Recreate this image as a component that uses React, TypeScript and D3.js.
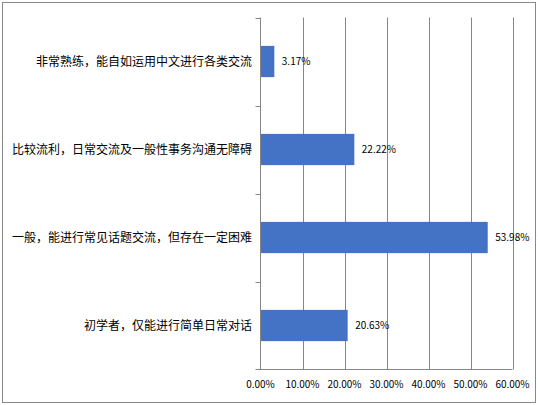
import { useEffect, useRef } from 'react';
import * as d3 from 'd3';

const categories = [
  '非常熟练，能自如运用中文进行各类交流',
  '比较流利，日常交流及一般性事务沟通无障碍',
  '一般，能进行常见话题交流，但存在一定困难',
  '初学者，仅能进行简单日常对话',
];
const values = [3.17, 22.22, 53.98, 20.63];
const xTicks = [0, 10, 20, 30, 40, 50, 60];

export default function App() {
  const ref = useRef<SVGSVGElement>(null);

  useEffect(() => {
    if (!ref.current) return;
    const width = 538;
    const height = 405;
    const left = 260.5;
    const right = 512.5;
    const top = 17.5;
    const bottom = 369.5;
    const lineColor = '#868686';
    const font = '"Noto Sans CJK SC", "Noto Sans", sans-serif';

    const svg = d3.select(ref.current);
    svg.selectAll('*').remove();
    svg.attr('width', width).attr('height', height);

    // Outer border
    svg.append('rect')
      .attr('x', 2.5)
      .attr('y', 2.5)
      .attr('width', 533)
      .attr('height', 400)
      .attr('fill', '#fff')
      .attr('stroke', '#888');

    const x = d3.scaleLinear().domain([0, 60]).range([left, right]);
    const y = d3.scaleBand<string>()
      .domain(categories)
      .range([top, bottom])
      .paddingInner(0.645)
      .paddingOuter(0.3225);

    // Gridlines
    svg.append('g')
      .selectAll('line')
      .data(xTicks.slice(1))
      .join('line')
      .attr('x1', d => Math.round(x(d)) + 0.5)
      .attr('x2', d => Math.round(x(d)) + 0.5)
      .attr('y1', top)
      .attr('y2', bottom)
      .attr('stroke', lineColor);

    // Category axis and separators
    const step = (bottom - top) / categories.length;
    svg.append('line')
      .attr('x1', left).attr('x2', left)
      .attr('y1', top).attr('y2', bottom)
      .attr('stroke', lineColor);
    svg.append('g')
      .selectAll('line')
      .data(d3.range(categories.length))
      .join('line')
      .attr('x1', left - 5)
      .attr('x2', left)
      .attr('y1', i => Math.round(top + i * step) + 0.5)
      .attr('y2', i => Math.round(top + i * step) + 0.5)
      .attr('stroke', lineColor);

    // Value axis line
    svg.append('line')
      .attr('x1', left - 5).attr('x2', right)
      .attr('y1', bottom).attr('y2', bottom)
      .attr('stroke', lineColor);

    // Bars
    svg.append('g')
      .selectAll('rect')
      .data(values)
      .join('rect')
      .attr('x', left + 0.5)
      .attr('y', (_, i) => y(categories[i])!)
      .attr('width', d => x(d) - left)
      .attr('height', y.bandwidth())
      .attr('fill', '#4472C4');

    // Value labels
    svg.append('g')
      .selectAll('text')
      .data(values)
      .join('text')
      .attr('x', d => x(d) + 8)
      .attr('y', (_, i) => y(categories[i])! + y.bandwidth() / 2)
      .attr('dy', '0.35em')
      .style('font-family', font)
      .style('font-size', '10px')
      .style('fill', '#000')
      .text(d => `${d.toFixed(2)}%`);

    // Category labels
    svg.append('g')
      .selectAll('text')
      .data(categories)
      .join('text')
      .attr('x', 252)
      .attr('y', d => y(d)! + y.bandwidth() / 2)
      .attr('dy', '0.35em')
      .attr('text-anchor', 'end')
      .style('font-family', font)
      .style('font-size', '12px')
      .style('fill', '#000')
      .text(d => d);

    // X tick labels
    svg.append('g')
      .selectAll('text')
      .data(xTicks)
      .join('text')
      .attr('x', d => x(d))
      .attr('y', 384)
      .attr('dy', '0.35em')
      .attr('text-anchor', 'middle')
      .style('font-family', font)
      .style('font-size', '10px')
      .style('fill', '#000')
      .text(d => `${d.toFixed(2)}%`);
  }, []);

  return (
    <div style={{ position: 'absolute', left: 0, top: 0 }}>
      <svg ref={ref} style={{ display: 'block' }} />
    </div>
  );
}
